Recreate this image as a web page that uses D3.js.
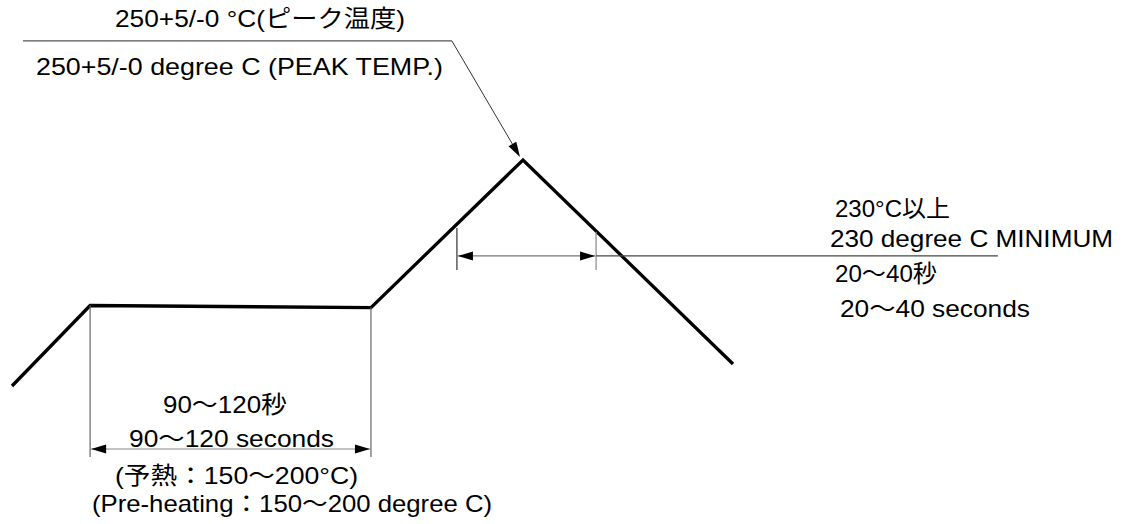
<!DOCTYPE html>
<html>
<head>
<meta charset="utf-8">
<script src="https://cdn.jsdelivr.net/npm/d3@7"></script>
<style>
  html, body { margin: 0; padding: 0; background: #fff; }
  svg { display: block; }
  text { font-family: "Liberation Sans", Arial, "Noto Sans CJK JP", sans-serif; font-size: 24px; fill: #000; }
</style>
</head>
<body>
<svg id="chart" width="1137" height="524"></svg>
<script>
// ---- data (schematic reflow profile: time in s, temperature in °C) ----
const profileTime = [0, 27.9, 128.2, 182.5, 257.5];
const profileTemp = [173.9, 201.0, 200.3, 250, 181.3];

const preheatTimes = [27.9, 128.2];      // 90〜120 s window
const preheatArrowLevel = 152.7;
const preheatExtBottom = 150;

const reflowTimes = [158.9, 208.6];      // 20〜40 s above 230°C
const reflowExtTop = [227.1, 225.8];
const reflowArrowLevel = 217.7;
const reflowExtBottom = 213;
const reflowLeaderEnd = 352.1;

const peakLeaderTimes = [3.9, 157.1];
const peakLeaderLevel = 290.1;

const labelsPeak = ["250+5/-0 °C(ピーク温度)", "250+5/-0 degree C (PEAK TEMP.)"];
const labelsPreheat = ["90〜120秒", "90〜120 seconds", "(予熱：150〜200°C)", "(Pre-heating：150〜200 degree C)"];
const labelsReflow = ["230°C以上", "230 degree C MINIMUM", "20〜40秒", "20〜40 seconds"];

// ---- scales ----
const x = d3.scaleLinear().domain([0, 400]).range([12, 1132]);
const y = d3.scaleLinear().domain([150, 250]).range([457, 160]);

const svg = d3.select("#chart");

// profile line
const line = d3.line().x(d => x(d[0])).y(d => y(d[1]));
svg.append("path")
  .datum(d3.zip(profileTime, profileTemp))
  .attr("d", line)
  .attr("fill", "none")
  .attr("stroke", "#000")
  .attr("stroke-width", 3.3)
  .attr("stroke-linejoin", "miter");

function seg(x1, y1, x2, y2, color, w) {
  svg.append("line").attr("x1", x1).attr("y1", y1).attr("x2", x2).attr("y2", y2)
    .attr("stroke", color).attr("stroke-width", w || 1);
}
function arrowHead(tx, ty, ux, uy, len, hw) {
  const bx = tx - ux * len, by = ty - uy * len;
  const px = -uy, py = ux;
  svg.append("path")
    .attr("d", `M${tx},${ty}L${bx + px * hw},${by + py * hw}L${bx - px * hw},${by - py * hw}Z`)
    .attr("fill", "#000");
}

// ---- preheat dimension ----
const profIdxPre = [1, 2];
preheatTimes.forEach((t, i) => {
  seg(x(t), y(profileTemp[profIdxPre[i]]), x(t), y(preheatExtBottom), "#666", 1.2);
});
{
  const ay = y(preheatArrowLevel);
  const x1 = x(preheatTimes[0]) + 1, x2 = x(preheatTimes[1]) - 1;
  seg(x1, ay, x2, ay, "#888", 1.2);
  arrowHead(x1, ay, -1, 0, 15, 4.5);
  arrowHead(x2, ay, 1, 0, 15, 4.5);
}

// ---- reflow dimension ----
reflowTimes.forEach((t, i) => {
  seg(x(t), y(reflowExtTop[i]), x(t), y(reflowExtBottom), i === 0 ? "#333" : "#888", 1.2);
});
{
  const ay = y(reflowArrowLevel);
  const x1 = x(reflowTimes[0]) + 1, x2 = x(reflowTimes[1]) - 1;
  seg(x1, ay, x2, ay, "#777", 1.2);
  seg(x(reflowTimes[1]), ay, x(reflowLeaderEnd), ay, "#444", 1.2);
  arrowHead(x1, ay, -1, 0, 15, 4.5);
  arrowHead(x2, ay, 1, 0, 15, 4.5);
}

// ---- peak leader ----
{
  const ly = y(peakLeaderLevel);
  const cx = x(peakLeaderTimes[1]);
  seg(x(peakLeaderTimes[0]), ly, cx, ly, "#555", 1.2);
  const tx = x(profileTime[3]) - 3, ty = y(profileTemp[3]) - 3;
  const dx = tx - cx, dy = ty - ly, L = Math.hypot(dx, dy);
  const ux = dx / L, uy = dy / L;
  seg(cx, ly, tx - ux * 12, ty - uy * 12, "#333", 1);
  arrowHead(tx, ty, ux, uy, 15, 4.5);
}

// ---- labels ----
function label(txt, x0, x1, base) {
  svg.append("text").attr("x", x0).attr("y", base)
    .attr("textLength", x1 - x0).attr("lengthAdjust", "spacingAndGlyphs")
    .text(txt);
}
label(labelsPeak[0], 115, 405, 27);
label(labelsPeak[1], 36, 443, 75);

label(labelsPreheat[0], 163, 287, 413);
label(labelsPreheat[1], 129, 334, 447);
label(labelsPreheat[2], 115, 358, 484);
label(labelsPreheat[3], 92, 492, 512);

label(labelsReflow[0], 835, 950, 217);
label(labelsReflow[1], 830, 1113, 247);
label(labelsReflow[2], 835, 937, 282);
label(labelsReflow[3], 840, 1030, 317);
</script>
</body>
</html>
